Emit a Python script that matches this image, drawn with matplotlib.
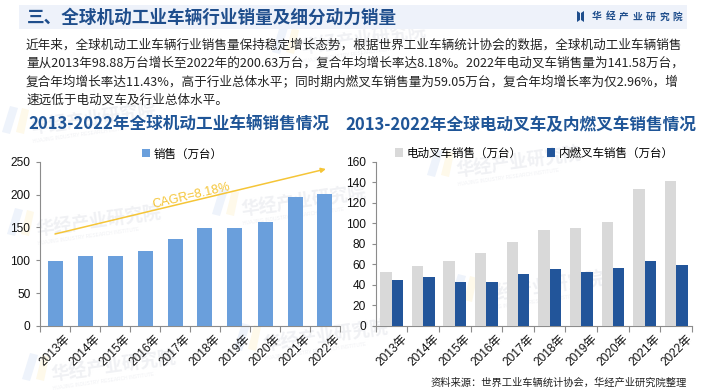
import matplotlib
matplotlib.use("Agg")
import matplotlib.pyplot as plt
from matplotlib.patches import Rectangle, Polygon
import matplotlib.transforms as mtransforms
import numpy as np

years = ["2013年", "2014年", "2015年", "2016年", "2017年", "2018年", "2019年", "2020年", "2021年", "2022年"]
total_sales = [98.88, 107.0, 107.0, 114.6, 132.9, 149.6, 149.6, 158.7, 196.2, 200.63]
electric_sales = [52.6, 58.4, 63.3, 71.1, 81.8, 93.5, 95.7, 101.3, 133.4, 141.58]
ice_sales = [44.8, 47.7, 42.8, 42.8, 50.6, 55.5, 52.6, 56.5, 63.3, 59.05]
left_yticks = [0, 50, 100, 150, 200, 250]
right_yticks = [0, 20, 40, 60, 80, 100, 120, 140, 160]

header_title = "三、全球机动工业车辆行业销量及细分动力销量"
body_lines = [
    "近年来，全球机动工业车辆行业销售量保持稳定增长态势，根据世界工业车辆统计协会的数据，全球机动工业车辆销售",
    "量从2013年98.88万台增长至2022年的200.63万台，复合年均增长率达8.18%。2022年电动叉车销售量为141.58万台，",
    "复合年均增长率达11.43%，高于行业总体水平；同时期内燃叉车销售量为59.05万台，复合年均增长率为仅2.96%，增",
    "速远低于电动叉车及行业总体水平。",
]
left_title = "2013-2022年全球机动工业车辆销售情况"
right_title = "2013-2022年全球电动叉车及内燃叉车销售情况"
left_legend = "销售（万台）"
right_legend = ["电动叉车销售（万台）", "内燃叉车销售（万台）"]
cagr_text = "CAGR=8.18%"
source_text = "资料来源：世界工业车辆统计协会，华经产业研究院整理"
logo_text = "华经产业研究院"

W, H = 705, 392
CJK = ["Noto Sans CJK SC", "DejaVu Sans"]
NUM = ["Liberation Sans", "Noto Sans CJK SC"]
plt.rcParams["font.family"] = CJK

DARK_BLUE = "#1F4E8C"
BAR_BLUE = "#6A9FDC"
GRAY_BAR = "#D9D9D9"
NAVY_BAR = "#22559A"
GOLD = "#F5C537"
AXIS_GRAY = "#8C8C8C"

fig = plt.figure(figsize=(W / 100, H / 100), dpi=100)
fig.patch.set_facecolor("white")


def fx(px):
    return px / W


def fy(py):
    return 1 - py / H


# ---- faint watermarks (drawn beneath everything) ----
wm_color = "#F0F1F4"
for (x, y) in [(300, 40), (30, 120), (35, 222), (240, 202), (50, 367), (262, 337), (455, 163), (478, 288)]:
    fig.patches.append(Polygon([[fx(x - 28), fy(y + 12)], [fx(x - 20), fy(y - 14)], [fx(x - 12), fy(y - 12)], [fx(x - 20), fy(y + 14)]],
                               closed=True, transform=fig.transFigure, facecolor="#EEF3FB", edgecolor="none", zorder=-5))
    fig.patches.append(Polygon([[fx(x - 14), fy(y + 12)], [fx(x - 8), fy(y - 12)], [fx(x - 1), fy(y - 10)], [fx(x - 6), fy(y + 14)]],
                               closed=True, transform=fig.transFigure, facecolor="#FEF9EA", edgecolor="none", zorder=-5))
    fig.text(fx(x), fy(y), logo_text, fontsize=13, fontweight="bold", color=wm_color, rotation=8,
             ha="left", va="center", zorder=-5)
    fig.text(fx(x + 2), fy(y + 14), "HUAJING INDUSTRY RESEARCH INSTITUTE", fontsize=3.5, color=wm_color,
             rotation=8, ha="left", va="center", family=NUM, zorder=-5)

# ---- header band ----
fig.patches.append(Rectangle((fx(19), fy(29)), fx(687) - fx(19), fy(5) - fy(29), transform=fig.transFigure,
                             facecolor="#EEF2FA", edgecolor="none", zorder=1))
fig.text(fx(27), fy(17.5), header_title, fontsize=12.7, fontweight="bold", color=DARK_BLUE,
         ha="left", va="center", zorder=2)
# logo
fig.patches.append(Polygon([[fx(577), fy(11)], [fx(580), fy(13)], [fx(580), fy(20)], [fx(577), fy(22)]],
                           closed=True, transform=fig.transFigure, facecolor=DARK_BLUE, edgecolor="none", zorder=2))
fig.patches.append(Polygon([[fx(584), fy(11)], [fx(581), fy(13)], [fx(581), fy(20)], [fx(584), fy(22)]],
                           closed=True, transform=fig.transFigure, facecolor=DARK_BLUE, edgecolor="none", zorder=2))
for i, ch in enumerate(logo_text):
    fig.text(fx(597 + i * 13.4), fy(16.5), ch, fontsize=7, fontweight="bold", color=DARK_BLUE,
             ha="center", va="center", zorder=2)

# ---- body text ----
for i, line in enumerate(body_lines):
    fig.text(fx(26), fy(45 + i * 18.4), line, fontsize=9.05, color="#222222", ha="left", va="center")

# ---- subtitles ----
fig.text(fx(28), fy(125), left_title, fontsize=12, fontweight="bold", color="#1F5597", ha="left", va="center")
fig.text(fx(345), fy(125), right_title, fontsize=12, fontweight="bold", color="#1F5597", ha="left", va="center")

# ---- axes ----
ax1 = fig.add_axes([fx(40), fy(326), fx(340) - fx(40), fy(161.7) - fy(326)])
ax2 = fig.add_axes([fx(375.7), fy(326), fx(692) - fx(375.7), fy(161.7) - fy(326)])

x = np.arange(len(years))
label_offset = mtransforms.ScaledTranslation(10 / 100, -3 / 100, fig.dpi_scale_trans)


def style_axis(ax, yticks):
    ax.set_facecolor("none")
    for s in ["top", "right"]:
        ax.spines[s].set_visible(False)
    for s in ["left", "bottom"]:
        ax.spines[s].set_color(AXIS_GRAY)
        ax.spines[s].set_linewidth(0.8)
    ax.set_xlim(-0.5, len(years) - 0.5)
    ax.set_ylim(yticks[0], yticks[-1])
    ax.set_yticks(yticks)
    ax.set_yticklabels([str(v) for v in yticks], fontsize=8.6, family=NUM, color="#111111")
    ax.tick_params(axis="y", length=3, width=0.8, color=AXIS_GRAY, pad=4)
    # category ticks at boundaries
    ax.set_xticks(np.arange(-0.5, len(years), 1.0), minor=False)
    ax.set_xticklabels([])
    ax.tick_params(axis="x", which="major", length=4, width=0.8, color=AXIS_GRAY)
    ax.set_xticks(x, minor=True)
    ax.set_xticklabels(years, minor=True, fontsize=8.6, family=NUM, rotation=45, ha="right",
                       va="top", rotation_mode="anchor", color="#111111")
    ax.tick_params(axis="x", which="minor", length=0, pad=3)
    for lab in ax.get_xticklabels(minor=True):
        lab.set_transform(lab.get_transform() + label_offset)


style_axis(ax1, left_yticks)
style_axis(ax2, right_yticks)

b1 = ax1.bar(x, total_sales, width=0.5, color=BAR_BLUE, zorder=3, label=left_legend)
ax1.annotate("", xy=(9.03, 238.9), xytext=(0.0, 140.0),
             arrowprops=dict(arrowstyle="-|>", color=GOLD, lw=1.1, mutation_scale=7, shrinkA=0, shrinkB=0),
             zorder=4)
ax1.text(4.53, 197.8, cagr_text, fontsize=9.1, family=NUM, color=GOLD, rotation=13.3,
         rotation_mode="anchor", ha="center", va="center", zorder=4)

bw = 0.36
b2 = ax2.bar(x - bw / 2, electric_sales, width=bw, color=GRAY_BAR, zorder=3, label=right_legend[0])
b3 = ax2.bar(x + bw / 2, ice_sales, width=bw, color=NAVY_BAR, zorder=3, label=right_legend[1])

leg1 = fig.legend(handles=[b1], labels=[left_legend], loc="center", bbox_to_anchor=(fx(182.5), fy(154)),
                  frameon=False, fontsize=8.3, handlelength=0.7, handleheight=0.7, handletextpad=0.3,
                  borderpad=0, borderaxespad=0)
leg2 = fig.legend(handles=[b2, b3], labels=right_legend, loc="center", bbox_to_anchor=(fx(534.5), fy(153)),
                  frameon=False, fontsize=8.3, ncol=2, handlelength=0.7, handleheight=0.7, handletextpad=0.3,
                  columnspacing=2.2, borderpad=0, borderaxespad=0)

fig.text(fx(687), fy(383), source_text, fontsize=7.4, color="#222222", ha="right", va="center")

fig.savefig("out.png", dpi=100)
